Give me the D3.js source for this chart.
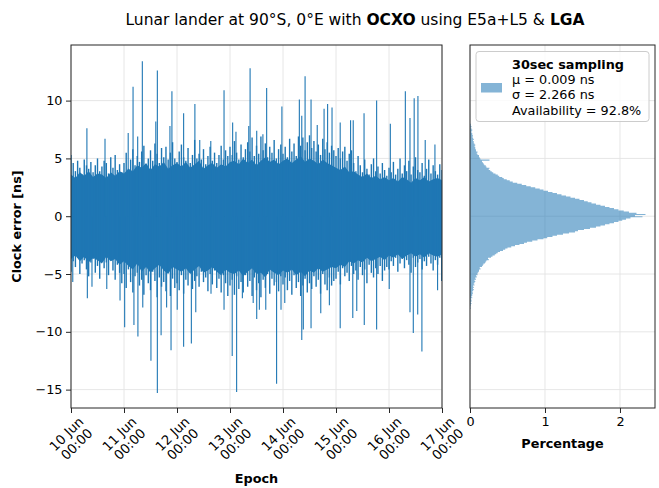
<!DOCTYPE html>
<html><head><meta charset="utf-8">
<script src="https://cdn.jsdelivr.net/npm/d3@7"></script>
<style>body{margin:0;background:#fff}svg{font-family:"DejaVu Sans",sans-serif;display:block}</style>
</head><body><svg id="c" width="659" height="488"></svg>
<script>
// ---------------- data ----------------
const xTickDays = ["10 Jun","11 Jun","12 Jun","13 Jun","14 Jun","15 Jun","16 Jun","17 Jun"];
const xTickTime = "00:00";
const yTicks = [-15,-10,-5,0,5,10];
const histTicks = [0,1,2];
const yDomain = [-16.59, 14.81];
const histMax = 2.467;

// dense band (every 2 h from 10 Jun 00:00)
const coreHi = [3.6,3.3,3.8,3.5,3.9,3.4,3.7,3.6,3.3,3.8,3.5,3.9,3.7,
  4.1,3.9,4.4,4.2,4.6,4.0,4.5,4.3,4.7,4.1,4.4,4.6,
  4.3,4.7,4.2,4.5,4.8,4.1,4.4,4.6,4.2,4.5,4.3,4.7,
  4.8,4.5,5.0,4.6,4.9,4.4,4.8,5.1,4.7,4.9,4.5,4.8,
  5.0,4.6,4.9,5.2,4.7,5.0,4.8,4.5,4.9,4.6,4.4,4.2,
  4.0,4.3,3.8,3.9,3.6,3.4,3.7,3.3,3.5,3.2,3.4,3.1,
  3.3,3.0,3.4,3.2,2.9,3.3,3.1,3.4,3.0,3.2,3.3,3.1];
const coreLo = [-3.7,-3.4,-3.9,-3.5,-4.0,-3.6,-3.8,-4.1,-3.5,-3.9,-3.7,-4.2,-3.9,
  -4.3,-4.6,-4.1,-4.8,-4.4,-4.9,-4.5,-4.2,-4.7,-5.0,-4.4,-4.6,
  -4.8,-4.5,-5.0,-4.6,-4.3,-4.9,-4.7,-4.4,-4.8,-5.1,-4.6,-4.9,
  -5.0,-4.7,-5.2,-4.8,-4.5,-5.0,-4.9,-5.3,-4.6,-4.9,-5.1,-4.7,
  -4.9,-4.6,-5.1,-4.8,-5.2,-4.7,-4.9,-4.5,-4.8,-4.6,-4.4,-4.5,
  -4.2,-4.4,-3.9,-4.1,-3.8,-4.0,-3.6,-3.9,-3.7,-3.5,-3.8,-3.4,
  -3.6,-3.3,-3.7,-3.4,-3.2,-3.5,-3.3,-3.6,-3.2,-3.4,-3.5,-3.3];

// hourly extremes (hour 0 .. 168)
const hourlyHi = [
  5.3,4.6,3.9,4.8,4.2,3.6,4.9,4.4,4.1,4.7,3.8,4.4,5.0,3.9,4.3,4.8,4.6,3.7,5.1,4.2,5.3,4.0,4.5,3.8,
  4.6,5.5,4.1,4.9,5.8,4.4,5.2,4.7,5.6,6.1,4.5,5.0,5.7,4.8,6.3,5.4,4.6,5.9,5.1,6.0,4.9,5.5,6.4,5.0,
  4.7,5.6,6.2,5.1,4.8,5.9,4.6,5.3,6.6,5.0,5.4,4.9,5.8,4.5,5.2,6.0,4.8,5.5,4.6,5.3,6.1,4.9,5.7,5.2,
  6.0,5.3,6.5,5.5,4.9,6.2,5.1,5.8,6.4,5.6,6.8,5.2,6.1,5.4,6.9,5.7,6.3,5.1,6.0,5.5,6.6,5.0,5.8,6.2,
  5.4,6.0,5.1,6.7,5.6,6.3,5.2,6.9,6.1,6.8,5.7,6.4,7.0,5.9,6.5,5.6,6.2,5.3,6.7,5.8,6.4,5.5,6.1,5.7,
  5.2,5.9,5.0,5.6,6.0,4.8,5.4,5.7,4.6,3.9,5.2,4.4,3.8,4.9,4.1,3.6,4.5,5.0,3.9,4.3,3.7,4.6,4.0,3.5,
  4.2,3.8,4.7,3.6,4.1,5.0,3.7,4.4,3.9,4.8,3.6,4.3,5.1,4.0,3.8,4.6,3.5,4.1,4.9,3.7,4.4,3.9,3.6,4.5,4.0];
const hourlyLo = [
  -4.8,-3.9,-4.4,-3.6,-5.0,-4.1,-3.8,-4.6,-5.2,-4.0,-3.7,-4.9,-4.3,-5.4,-3.9,-4.5,-4.0,-5.1,-3.8,-4.7,-5.5,-4.2,-4.9,-5.8,
  -5.0,-6.2,-4.6,-5.7,-6.6,-5.2,-4.9,-6.0,-5.5,-6.8,-5.1,-5.8,-6.4,-4.8,-5.6,-7.0,-5.3,-6.1,-5.7,-6.5,-4.9,-6.9,-5.4,-6.2,
  -5.8,-6.4,-5.1,-6.7,-5.5,-6.0,-4.9,-6.3,-5.6,-5.2,-6.1,-4.8,-5.7,-5.3,-6.5,-5.0,-5.9,-4.7,-6.2,-5.4,-6.6,-5.1,-5.8,-6.9,
  -6.0,-5.5,-6.8,-5.2,-6.3,-5.7,-6.6,-5.1,-6.1,-5.6,-6.9,-5.3,-6.4,-5.8,-7.0,-5.5,-6.2,-5.0,-6.7,-5.4,-6.0,-5.7,-6.5,-5.2,
  -5.9,-5.3,-6.4,-5.6,-6.8,-5.1,-6.2,-5.7,-6.9,-6.0,-5.4,-6.6,-5.8,-6.3,-5.2,-6.1,-5.5,-6.7,-5.0,-5.9,-6.4,-5.3,-6.0,-5.6,
  -5.4,-4.8,-5.9,-4.5,-5.2,-4.9,-5.6,-4.3,-5.0,-4.7,-5.5,-4.4,-5.1,-4.6,-5.8,-4.2,-4.9,-5.3,-4.5,-5.0,-4.3,-5.6,-4.7,-4.4,
  -4.6,-3.9,-4.3,-3.6,-4.8,-4.1,-3.7,-4.5,-3.8,-4.2,-4.9,-3.6,-4.4,-4.0,-3.7,-4.6,-3.9,-4.3,-3.5,-4.1,-4.7,-3.8,-4.2,-3.6,-4.4];

// isolated large excursions (hours since 10 Jun 00:00, ns)
const spikeUpHours = [7.2,15.4,25.9,28.1,30.2,32.3,38.4,39.1,44.8,45.7,51.0,56.1,58.3,63.3,69.3,73.2,74.7,80.5,81.1,84.1,
  86.9,88.6,95.5,103.4,104.5,106.0,108.7,111.5,114.6,116.2,118.2,121.9,126.6,127.8,132.7,138.4,144.6,151.4,153.5,155.4,157.1,160.4,164.8];
const spikeUpVals = [7.6,6.7,7.2,11.2,6.9,13.4,8.2,12.6,7.8,10.8,8.9,9.7,6.6,6.5,10.9,8.1,7.3,7.8,12.8,7.4,
  7.1,11.1,9.5,10.1,8.7,12.1,10.1,7.9,9.3,9.7,9.4,8.1,8.3,8.3,8.9,10.0,8.0,10.8,8.5,10.2,10.4,6.6,6.2];
const spikeDnHours = [0.8,7.4,9.5,16.2,22.2,24.3,28.5,30.3,32.5,36.2,39.1,40.8,43.3,45.3,48.1,51.0,54.5,56.5,63.4,69.3,
  73.0,75.0,77.6,82.5,84.1,85.3,88.2,93.1,95.1,96.8,104.5,105.2,108.7,113.1,117.0,121.9,127.6,129.4,132.8,138.4,
  144.1,153.5,155.0,157.0,158.9,166.0,167.8];
const spikeDnVals = [-5.7,-7.1,-6.1,-6.3,-7.3,-9.6,-9.4,-10.4,-7.9,-12.5,-15.3,-10.3,-7.9,-11.6,-8.1,-11.3,-11.0,-8.3,-6.7,-8.1,
  -12.1,-15.2,-7.1,-7.5,-8.9,-8.1,-8.1,-14.5,-8.1,-7.5,-10.7,-9.8,-9.7,-8.4,-7.7,-9.7,-8.8,-8.2,-9.4,-9.8,
  -6.3,-8.3,-10.1,-8.5,-11.7,-6.4,-5.6];

// histogram: bins of 0.1 ns starting at -8.0 ns, value = percentage
const histStart = -8.0, histWidth = 0.1;
const histPct = [
  0.01,0.00,0.01,0.01,0.02,0.01,0.02,0.02,0.01,0.03,
  0.02,0.03,0.03,0.04,0.03,0.04,0.05,0.04,0.05,0.04,
  0.06,0.05,0.06,0.07,0.06,0.08,0.07,0.09,0.08,0.10,
  0.10,0.11,0.12,0.12,0.14,0.13,0.16,0.17,0.18,0.20,
  0.21,0.22,0.25,0.24,0.28,0.30,0.33,0.35,0.37,0.40,
  0.44,0.47,0.50,0.55,0.60,0.66,0.72,0.76,0.83,0.90,
  0.98,1.03,1.10,1.16,1.24,1.32,1.40,1.44,1.52,1.60,
  1.68,1.74,1.80,1.86,1.92,1.98,2.03,2.08,2.14,2.30,
  2.20,2.34,2.22,2.12,2.05,1.98,1.92,1.86,1.80,1.74,
  1.68,1.62,1.57,1.52,1.46,1.40,1.34,1.28,1.22,1.16,
  1.10,1.04,0.98,0.93,0.87,0.81,0.75,0.69,0.63,0.57,
  0.53,0.49,0.45,0.43,0.39,0.37,0.34,0.31,0.29,0.27,
  0.25,0.26,0.22,0.21,0.19,0.18,0.17,0.16,0.26,0.14,
  0.13,0.12,0.12,0.10,0.09,0.10,0.08,0.08,0.07,0.07,
  0.06,0.07,0.06,0.05,0.05,0.04,0.05,0.04,0.03,0.04,
  0.03,0.03,0.02,0.02,0.03,0.02,0.01,0.02,0.01,0.01];

const legendTitle = "30sec sampling";
const legendLines = ["μ = 0.009 ns","σ = 2.266 ns","Availability = 92.8%"];

// ---------------- layout ----------------
const FS = 12.8;
const L=71, R=442, T=45, B=408, HL=470, HR=655;
const blue = "#1f77b4", gridC = "#e3e3e3", axC = "#262626";
const svg = d3.select("#c");
const t0 = new Date(Date.UTC(2024,5,10));
const hDate = h => new Date(t0.getTime() + h*3600e3);
const x = d3.scaleUtc().domain([t0, hDate(168)]).range([L,R]);
const y = d3.scaleLinear().domain(yDomain).range([B,T]);
const hx = d3.scaleLinear().domain([0,histMax]).range([HL,HR]);
const dayDates = xTickDays.map((d,i)=>hDate(24*i));

// title
const title = svg.append("text").attr("x",355).attr("y",25).attr("text-anchor","middle")
  .attr("font-size",15.5).attr("fill","#000");
title.append("tspan").text("Lunar lander at 90°S, 0°E with ");
title.append("tspan").attr("font-weight","bold").text("OCXO");
title.append("tspan").text(" using E5a+L5 & ");
title.append("tspan").attr("font-weight","bold").text("LGA");

// grids
const g1 = svg.append("g");
g1.selectAll("line.vx").data(dayDates).join("line")
  .attr("x1",d=>x(d)).attr("x2",d=>x(d)).attr("y1",T).attr("y2",B).attr("stroke",gridC).attr("stroke-width",0.9);
g1.selectAll("line.hy").data(yTicks).join("line").attr("class","hy")
  .attr("x1",L).attr("x2",R).attr("y1",d=>y(d)).attr("y2",d=>y(d)).attr("stroke",gridC).attr("stroke-width",0.9);
const g2 = svg.append("g");
g2.selectAll("line.vx").data(histTicks).join("line")
  .attr("x1",d=>hx(d)).attr("x2",d=>hx(d)).attr("y1",T).attr("y2",B).attr("stroke",gridC).attr("stroke-width",0.9);
g2.selectAll("line.hy").data(yTicks).join("line").attr("class","hy")
  .attr("x1",HL).attr("x2",HR).attr("y1",d=>y(d)).attr("y2",d=>y(d)).attr("stroke",gridC).attr("stroke-width",0.9);

// clip
const defs = svg.append("defs");
defs.append("clipPath").attr("id","cl").append("rect").attr("x",L).attr("y",T).attr("width",R-L).attr("height",B-T);
defs.append("clipPath").attr("id","cr").append("rect").attr("x",HL).attr("y",T).attr("width",HR-HL).attr("height",B-T);

// time series
const ts = svg.append("g").attr("clip-path","url(#cl)");
ts.append("path").datum(coreHi.map((h,i)=>({h:i*2,hi:h,lo:coreLo[i]})))
  .attr("d", d3.area().x(d=>x(hDate(d.h))).y0(d=>y(d.lo)).y1(d=>y(d.hi)))
  .attr("fill",blue);
ts.selectAll("line.hr").data(hourlyHi.map((h,i)=>({h:i,hi:h,lo:hourlyLo[i]}))).join("line")
  .attr("x1",d=>x(hDate(d.h))).attr("x2",d=>x(hDate(d.h)))
  .attr("y1",d=>y(d.lo)).attr("y2",d=>y(d.hi)).attr("stroke",blue).attr("stroke-width",1.4);
ts.selectAll("line.su").data(spikeUpHours.map((h,i)=>({h,v:spikeUpVals[i]}))).join("line")
  .attr("x1",d=>x(hDate(d.h))).attr("x2",d=>x(hDate(d.h)))
  .attr("y1",y(0)).attr("y2",d=>y(d.v)).attr("stroke",blue).attr("stroke-width",1.1);
ts.selectAll("line.sd").data(spikeDnHours.map((h,i)=>({h,v:spikeDnVals[i]}))).join("line")
  .attr("x1",d=>x(hDate(d.h))).attr("x2",d=>x(hDate(d.h)))
  .attr("y1",y(0)).attr("y2",d=>y(d.v)).attr("stroke",blue).attr("stroke-width",1.1);

// histogram
const hpts = histPct.map((v,i)=>({e:histStart+i*histWidth, v}));
hpts.push({e:histStart+histPct.length*histWidth, v:histPct[histPct.length-1]});
svg.append("g").attr("clip-path","url(#cr)").append("path").datum(hpts)
  .attr("d", d3.area().curve(d3.curveStepBefore).y(d=>y(d.e)).x0(hx(0)).x1(d=>hx(d.v)))
  .attr("fill",blue).attr("fill-opacity",0.55);

// frames
[[L,R],[HL,HR]].forEach(([a,b])=>svg.append("rect").attr("x",a).attr("y",T).attr("width",b-a).attr("height",B-T)
  .attr("fill","none").attr("stroke",axC).attr("stroke-width",1));

// axes
const ax = svg.append("g").attr("transform",`translate(0,${B})`)
  .call(d3.axisBottom(x).tickValues(dayDates).tickSize(5).tickFormat(""));
ax.select(".domain").remove(); ax.selectAll("line").attr("stroke",axC);
const xl = svg.append("g").attr("font-size",13.2).attr("fill","#000");
dayDates.forEach((d,i)=>{
  const g = xl.append("g").attr("transform",`translate(${x(d)+0.5},${439}) rotate(-45)`);
  g.append("text").attr("text-anchor","middle").attr("y",-7).attr("dominant-baseline","central").text(xTickDays[i]);
  g.append("text").attr("text-anchor","middle").attr("y",7.4).attr("dominant-baseline","central").text(xTickTime);
});
const ay = svg.append("g").attr("transform",`translate(${L},0)`)
  .call(d3.axisLeft(y).tickValues(yTicks).tickSize(5).tickPadding(3.5).tickFormat(d3.format("d")));
ay.select(".domain").remove(); ay.selectAll("line").attr("stroke",axC);
ay.attr("font-family","DejaVu Sans").attr("font-size",FS).selectAll("text").attr("fill","#000");
const ah = svg.append("g").attr("transform",`translate(0,${B})`)
  .call(d3.axisBottom(hx).tickValues(histTicks).tickSize(5).tickPadding(3.5).tickFormat(d3.format("d")));
ah.select(".domain").remove(); ah.selectAll("line").attr("stroke",axC);
ah.attr("font-family","DejaVu Sans").attr("font-size",FS).selectAll("text").attr("fill","#000");

// axis labels
svg.append("text").attr("transform",`translate(21,${(T+B)/2}) rotate(-90)`).attr("text-anchor","middle")
  .attr("font-weight","bold").attr("font-size",FS).text("Clock error [ns]");
svg.append("text").attr("x",(L+R)/2).attr("y",483).attr("text-anchor","middle")
  .attr("font-weight","bold").attr("font-size",FS).text("Epoch");
svg.append("text").attr("x",(HL+HR)/2).attr("y",448).attr("text-anchor","middle")
  .attr("font-weight","bold").attr("font-size",FS).text("Percentage");

// legend
const lg = svg.append("g");
lg.append("rect").attr("x",476).attr("y",51.5).attr("width",173).attr("height",70).attr("rx",3)
  .attr("fill","#fff").attr("fill-opacity",0.8).attr("stroke","#cccccc").attr("stroke-width",1);
lg.append("rect").attr("x",481).attr("y",83).attr("width",21).attr("height",9.5)
  .attr("fill",blue).attr("fill-opacity",0.55);
lg.append("text").attr("x",512).attr("y",68.5).attr("font-weight","bold").attr("font-size",FS).text(legendTitle);
legendLines.forEach((s,i)=>lg.append("text").attr("x",512).attr("y",84+i*15.4).attr("font-size",FS).text(s));
</script></body></html>
